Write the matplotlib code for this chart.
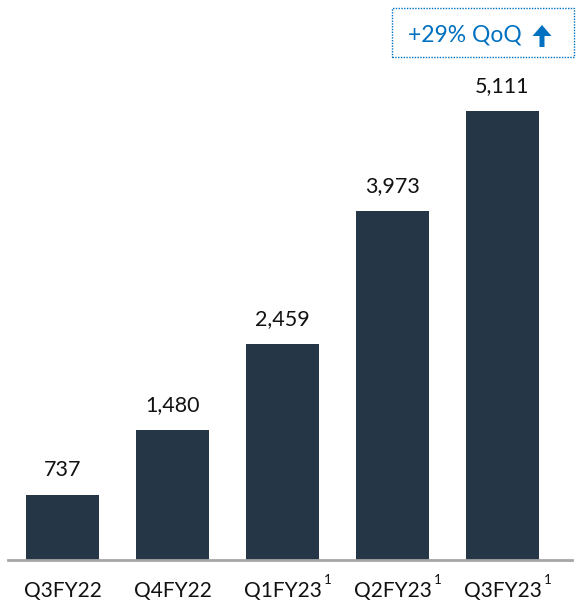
import matplotlib.pyplot as plt
import matplotlib.patches as mpatches

quarters = ["Q3FY22", "Q4FY22", "Q1FY23", "Q2FY23", "Q3FY23"]
footnote = ["", "", "1", "1", "1"]
values = [737, 1480, 2459, 3973, 5111]
badge_text = "+29% QoQ"

BAR = "#253746"
BLUE = "#0070C0"

plt.rcParams["font.family"] = ["Lato", "DejaVu Sans"]

W, H = 576, 603
fig = plt.figure(figsize=(W / 100, H / 100), dpi=100)
ax = fig.add_axes([7.5 / W, 43 / H, 564.5 / W, 560 / H])

x = list(range(len(values)))
ax.bar(x, values, width=73 / 110, color=BAR)
ax.set_xlim(-0.5, 4.632)
ax.set_ylim(0, 560 / 0.08785)

for xi, v in zip(x, values):
    ax.annotate(f"{v:,}", (xi, v), xytext=(0, 11), textcoords="offset points",
                ha="center", va="bottom", fontsize=15.5, color="#111111")

ax.set_xticks(x)
ax.set_xticklabels(quarters, fontsize=15, color="#111111")
ax.tick_params(axis="x", length=0, pad=15)
for xi, f in zip(x, footnote):
    if f:
        ax.annotate(f, (xi, 0), xytext=(45, -20), textcoords="offset pixels",
                    ha="center", va="center", fontsize=9.5, color="#111111")
ax.set_yticks([])
for s in ["top", "right", "left"]:
    ax.spines[s].set_visible(False)
ax.spines["bottom"].set_color("#A6A6A6")
ax.spines["bottom"].set_linewidth(2)

# badge
rect = mpatches.Rectangle((392 / W, 1 - 57 / H), 182 / W, 49 / H, transform=fig.transFigure,
                          fill=False, edgecolor=BLUE, linestyle=(0, (1, 1)), linewidth=1)
fig.patches.append(rect)
fig.text(465 / W, 1 - 35 / H, badge_text, ha="center", va="center", fontsize=16.5, color=BLUE)
arrow = mpatches.FancyArrow(542 / W, 1 - 47 / H, 0, 22 / H, width=5 / W, head_width=19 / W,
                            head_length=11 / H, length_includes_head=True,
                            transform=fig.transFigure, color=BLUE, linewidth=0)
fig.patches.append(arrow)

fig.savefig("out.png", dpi=100)
